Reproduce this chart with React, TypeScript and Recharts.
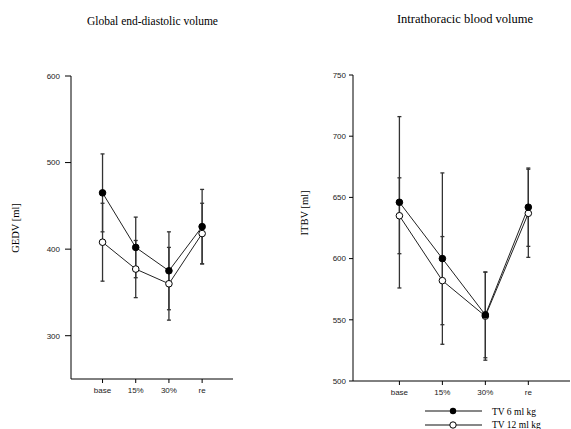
import React from 'react';
import { LineChart, Line, XAxis, YAxis, ErrorBar } from 'recharts';

const categories = ['base', '15%', '30%', 're'];
const positions = [1, 2, 3, 4];

const gedvTv6 = [465, 402, 375, 426];
const gedvTv6Sd = [45, 35, 45, 43];
const gedvTv12 = [408, 377, 360, 418];
const gedvTv12Sd = [45, 33, 42, 35];

const itbvTv6 = [646, 600, 554, 642];
const itbvTv6Sd = [70, 70, 35, 32];
const itbvTv12 = [635, 582, 553, 637];
const itbvTv12Sd = [31, 36, 36, 36];

const gedvTicks = [300, 400, 500, 600];
const itbvTicks = [500, 550, 600, 650, 700, 750];

const seriesNames = ['TV 6 ml kg', 'TV 12 ml kg'];

const build = (a: number[], aSd: number[], b: number[], bSd: number[]) =>
  positions.map((p, i) => ({ pos: p, cat: categories[i], a: a[i], aSd: aSd[i], b: b[i], bSd: bSd[i] }));

const gedvData = build(gedvTv6, gedvTv6Sd, gedvTv12, gedvTv12Sd);
const itbvData = build(itbvTv6, itbvTv6Sd, itbvTv12, itbvTv12Sd);

const tickFont = { fontFamily: 'Liberation Sans, Arial, sans-serif', fontSize: 8, fill: '#222' };
const serif = 'Liberation Serif, Times New Roman, serif';

const FilledDot = (props: any) => {
  const { cx, cy } = props;
  if (cx == null || cy == null) return null;
  return <circle cx={cx} cy={cy} r={3.3} fill="#000" stroke="#000" strokeWidth={1} />;
};
const OpenDot = (props: any) => {
  const { cx, cy } = props;
  if (cx == null || cy == null) return null;
  return <circle cx={cx} cy={cy} r={3.3} fill="#fff" stroke="#000" strokeWidth={1} />;
};

const LegendBox = () => (
  <svg width={140} height={26} style={{ overflow: 'visible', display: 'block' }}>
    <line x1={0} y1={5} x2={57} y2={5} stroke="#111" strokeWidth={1.2} />
    <circle cx={28} cy={5} r={3.2} fill="#000" />
    <text x={67} y={8.5} fontFamily={serif} fontSize={9.5} fill="#000">{seriesNames[0]}</text>
    <line x1={0} y1={19} x2={57} y2={19} stroke="#111" strokeWidth={1.2} />
    <circle cx={28} cy={19} r={3.2} fill="#fff" stroke="#000" strokeWidth={1} />
    <text x={67} y={22.3} fontFamily={serif} fontSize={9.5} fill="#000">{seriesNames[1]}</text>
  </svg>
);

const catFormatter = (v: number) => categories[v - 1] ?? '';

export default function App() {
  return (
    <div style={{ position: 'absolute', left: 0, top: 0, width: 571, height: 429, background: '#fff', overflow: 'hidden' }}>
      <div style={{ position: 'absolute', left: 0, width: 305, top: 15, textAlign: 'center', fontFamily: serif, fontSize: 11.5, color: '#000' }}>
        Global end-diastolic volume
      </div>
      <div style={{ position: 'absolute', left: 385, width: 160, top: 12, textAlign: 'center', fontFamily: serif, fontSize: 12.5, color: '#000', whiteSpace: 'nowrap' }}>
        Intrathoracic blood volume
      </div>
      <div style={{ position: 'absolute', left: 15, top: 228, width: 0, height: 0 }}>
        <div style={{ transform: 'translate(-50%, -50%) rotate(-90deg)', fontFamily: serif, fontSize: 10.5, whiteSpace: 'nowrap', position: 'absolute' }}>GEDV [ml]</div>
      </div>
      <div style={{ position: 'absolute', left: 304, top: 213, width: 0, height: 0 }}>
        <div style={{ transform: 'translate(-50%, -50%) rotate(-90deg)', fontFamily: serif, fontSize: 10.5, whiteSpace: 'nowrap', position: 'absolute' }}>ITBV [ml]</div>
      </div>

      <div style={{ position: 'absolute', left: 0, top: 0 }}>
        <LineChart width={290} height={429} data={gedvData} margin={{ top: 76, right: 57, left: 31, bottom: 20 }}>
          <XAxis dataKey="pos" type="number" domain={[0.05, 4.93]} ticks={positions} tickFormatter={catFormatter}
            tick={tickFont} tickSize={4} tickMargin={4} height={30} stroke="#000" allowDataOverflow />
          <YAxis type="number" domain={[250, 600]} ticks={gedvTicks} tick={tickFont} tickSize={6} tickMargin={5}
            width={40} stroke="#000" allowDataOverflow />
          <Line dataKey="b" stroke="#222" strokeWidth={1} dot={<OpenDot />} isAnimationActive={false}>
            <ErrorBar dataKey="bSd" width={2} stroke="#333" strokeWidth={1.3} direction="y" />
          </Line>
          <Line dataKey="a" stroke="#222" strokeWidth={1} dot={<FilledDot />} isAnimationActive={false}>
            <ErrorBar dataKey="aSd" width={2} stroke="#333" strokeWidth={1.3} direction="y" />
          </Line>
        </LineChart>
      </div>

      <div style={{ position: 'absolute', left: 290, top: 0 }}>
        <LineChart width={281} height={429} data={itbvData} margin={{ top: 75, right: 1, left: 23, bottom: 18 }}>
          <XAxis dataKey="pos" type="number" domain={[-0.08, 4.97]} ticks={positions} tickFormatter={catFormatter}
            tick={tickFont} tickSize={4} tickMargin={4} height={30} stroke="#000" allowDataOverflow />
          <YAxis type="number" domain={[500, 750]} ticks={itbvTicks} tick={tickFont} tickSize={4} tickMargin={3}
            width={40} stroke="#000" allowDataOverflow />
          <Line dataKey="b" stroke="#222" strokeWidth={1} dot={<OpenDot />} isAnimationActive={false}>
            <ErrorBar dataKey="bSd" width={2} stroke="#333" strokeWidth={1.3} direction="y" />
          </Line>
          <Line dataKey="a" stroke="#222" strokeWidth={1} dot={<FilledDot />} isAnimationActive={false}>
            <ErrorBar dataKey="aSd" width={2} stroke="#333" strokeWidth={1.3} direction="y" />
          </Line>
        </LineChart>
      </div>

      <div style={{ position: 'absolute', left: 425, top: 406 }}>
        <LegendBox />
      </div>
    </div>
  );
}
